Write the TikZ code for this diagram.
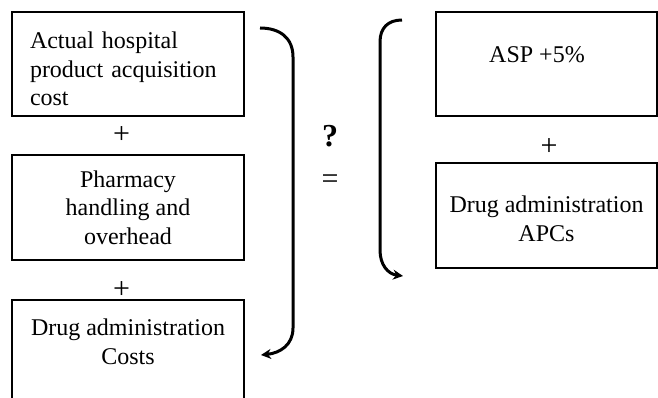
\documentclass[tikz,border=0pt]{standalone}
\usepackage{fontspec}
\setmainfont{Liberation Serif}
\usetikzlibrary{arrows.meta}

\begin{document}
\begin{tikzpicture}[x=1pt,y=-1pt,font=\fontsize{24}{28.5}\selectfont]
    \tikzset{box/.style = {shape=rectangle, draw, line width=2pt, minimum width=232pt, minimum height=104pt, align=center}}
    \tikzset{brace/.style = {draw, line width=3pt, ->, >={Stealth[length=10pt,width=10pt]}}}
    \tikzset{sign/.style = {inner sep=0pt, font=\fontsize{30}{34}\selectfont}}

    \useasboundingbox (0,0) rectangle (658,398);
    \clip (0,0) rectangle (658,398);

    % left side
    \node[box, text width=196pt, align=left, text height=26.5pt] (acq) at (128,64) {Actual hospital\\product acquisition\\cost};
    \node[sign] (plus1) at (121.5,135.5) {+};
    \node[box, minimum height=105pt] (pharm) at (128,207.5) {Pharmacy\\handling and\\overhead};
    \node[sign] (plus2) at (121.5,290) {+};
    \node[box, anchor=north, minimum height=0pt, inner ysep=19pt] (admin) at (128,299) {Drug administration\\Costs\\\mbox{}\\\mbox{}};

    % middle
    \node[sign, font=\fontsize{32}{34}\selectfont\bfseries] (ques) at (330,136.5) {?};
    \node[sign] (eq) at (330,182) {=};

    % right side
    \node[box, minimum width=221pt, text height=16.4pt, text depth=18.4pt] (asp) at (546.5,64) {ASP +5\%\hspace*{19pt}};
    \node[sign] (plus3) at (549,147) {+};
    \node[box, minimum width=221pt, minimum height=105pt, text height=52pt] (apc) at (546.5,215.5) {Drug administration\\APCs};

    % brackets
    \coordinate (ltop) at (260,28);
    \coordinate (lend) at (261,355);
    \coordinate (rtop) at (402,20);
    \coordinate (rend) at (403,276);
    \draw[brace] (ltop) .. controls (280,28) and (293,38) .. (293,57) -- (293,328) .. controls (293,345) and (280,353) .. (lend);
    \draw[brace] (rtop) .. controls (388,20) and (380,28) .. (380,42) -- (380,250) .. controls (380,265) and (388,274) .. (rend);
\end{tikzpicture}
\end{document}
